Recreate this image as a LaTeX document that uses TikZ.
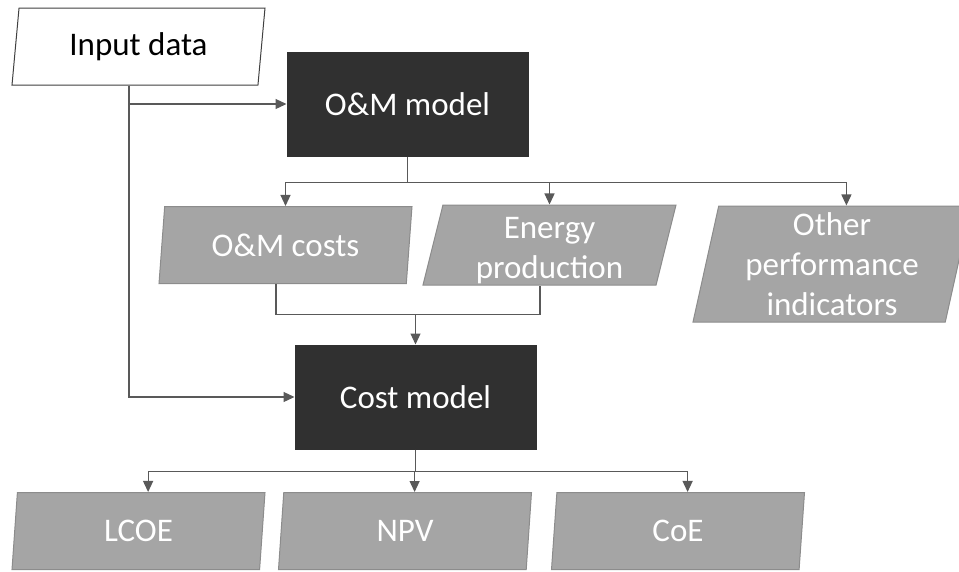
\documentclass[tikz,border=0pt]{standalone}
\usepackage{fontspec}
\setmainfont{Carlito}
\usepackage{xcolor}
\usetikzlibrary{shapes.geometric, arrows.meta, calc}

\definecolor{modeldark}{HTML}{303030}
\definecolor{datagray}{HTML}{A5A5A5}
\definecolor{dataedge}{HTML}{8C8C8C}
\definecolor{linegray}{HTML}{595959}

\begin{document}
\begin{tikzpicture}[
    x=1pt, y=-1pt,
    modelbox/.style={draw=modeldark, fill=modeldark, text=white, line width=1pt, minimum width=241pt, minimum height=104pt, align=center, font=\fontsize{33}{40}\selectfont},
    databox/.style={trapezium, trapezium left angle=76, trapezium right angle=104, trapezium stretches body, draw=dataedge, fill=datagray, text=white, line width=1pt, inner sep=0pt, minimum width=253pt, minimum height=77pt, align=center, font=\fontsize{33}{40}\selectfont},
    inputbox/.style={databox, draw=black!75, fill=white, text=black},
    arr/.style={-{Triangle[length=11pt, width=10pt]}, draw=linegray, line width=1.2pt},
    link/.style={draw=linegray, line width=1.2pt},
]
\useasboundingbox (0,0) rectangle (959,571);

\node[inputbox] (input) at (138.5,46.5) {Input data};
\node[modelbox] (om) at (407.5,104) {O\&M model};
\node[databox] (omcost) at (285.5,245) {O\&M costs};
\node[databox] (energy) at (549.5,245) {\raisebox{-5pt}[\height][\depth]{\begin{tabular}{@{}c@{}}Energy\\production\end{tabular}}};
\node[databox, minimum width=278pt, minimum height=116pt] (other) at (832,264) {Other\\performance\\indicators};
\node[modelbox] (cost) at (415.5,397) {Cost model};
\node[databox] (lcoe) at (138.5,531) {LCOE};
\node[databox] (npv) at (405,531) {NPV};
\node[databox] (coe) at (678,531) {CoE};

% middle of the slanted top and bottom edges
\foreach \n in {input,omcost,energy,lcoe,npv,coe} {
  \coordinate (\n-in) at ($(\n.north)+(9.6,0)$);
  \coordinate (\n-out) at ($(\n.south)+(-9.6,0)$);
}
\coordinate (other-in) at ($(other.north)+(14.4,0)$);

% input data feeds both models
\draw[arr] (input-out) |- (om.west);
\draw[arr] (input-out) |- (cost.west);

% O&M model outputs
\foreach \t in {omcost.north,energy.north,other-in}
  \draw[arr] (om.south) -- ++(0,26) -| (\t);

% costs and energy go to the cost model
\coordinate (join) at ($(cost.north)+(0,-30)$);
\draw[link] (omcost-out) |- (join) -| (energy-out);
\draw[arr] (join) -- (cost.north);

% cost model outputs
\foreach \t in {lcoe,npv,coe}
  \draw[arr] (cost.south) -- ++(0,22) -| (\t-in);

\end{tikzpicture}
\end{document}
